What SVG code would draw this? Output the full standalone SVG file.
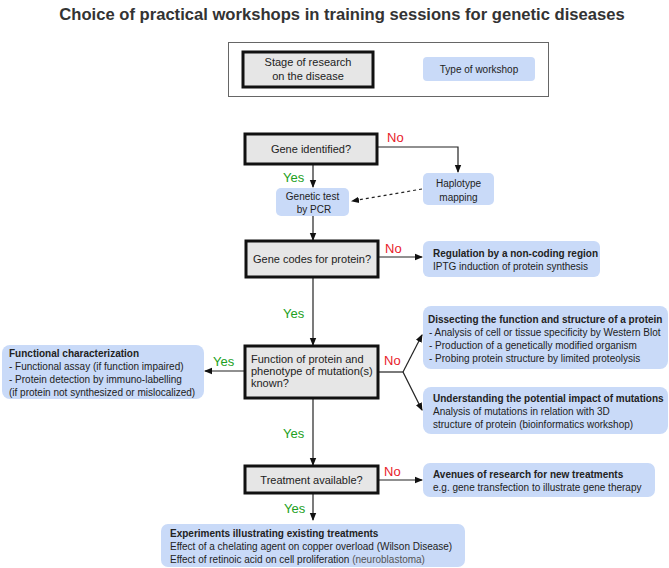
<svg xmlns="http://www.w3.org/2000/svg" width="669" height="568" viewBox="0 0 669 568">
<defs>
<marker id="ah" markerUnits="userSpaceOnUse" markerWidth="8" markerHeight="8" viewBox="0 0 8 8" refX="7" refY="4" orient="auto">
<path d="M0,0.8 L8,4 L0,7.2 Z" fill="#111"/>
</marker>
<style>
text{font-family:"Liberation Sans",Arial,sans-serif;fill:#222}
.t11{font-size:11px}
.t10{font-size:10px}
.b{font-weight:bold}
.mid{text-anchor:middle}
.stage{fill:#e6e6e6;stroke:#111;stroke-width:3}
.ws{fill:#c9daf8;stroke:none}
.yes{font-size:13px;fill:#22a022}
.no{font-size:13px;fill:#e8202a}
.c{fill:none;stroke:#222;stroke-width:1.2}
</style>
</defs>
<rect width="669" height="568" fill="#fff"/>
<text x="342" y="20" class="mid b" style="font-size:16.6px;fill:#333">Choice of practical workshops in training sessions for genetic diseases</text>

<g id="legend">
<rect x="228.5" y="42.5" width="320" height="54" fill="#fff" stroke="#666" stroke-width="1"/>
<rect x="243" y="52" width="130" height="35" class="stage"/>
<text class="t11 mid" x="308" y="66">Stage of research</text>
<text class="t11 mid" x="308" y="80">on the disease</text>
<rect x="423" y="57" width="112" height="24" rx="4" class="ws"/>
<text class="t10 mid" x="479" y="73">Type of workshop</text>
</g>

<g id="connectors">
<path class="c" d="M377,147 H458 V172" marker-end="url(#ah)"/>
<path class="c" d="M313,164 V187" marker-end="url(#ah)"/>
<path class="c" d="M422,189 L352,201" stroke-dasharray="3,3" marker-end="url(#ah)"/>
<path class="c" d="M313,216 V240" marker-end="url(#ah)"/>
<path class="c" d="M378,257 H422" marker-end="url(#ah)"/>
<path class="c" d="M313,277 V345" marker-end="url(#ah)"/>
<path class="c" d="M245,371 H205" marker-end="url(#ah)"/>
<path class="c" d="M378,372 H403"/>
<path class="c" d="M403,372 L422,335" marker-end="url(#ah)"/>
<path class="c" d="M403,372 L422,410" marker-end="url(#ah)"/>
<path class="c" d="M313,398 V465" marker-end="url(#ah)"/>
<path class="c" d="M378,480 H422" marker-end="url(#ah)"/>
<path class="c" d="M313,493 V520" marker-end="url(#ah)"/>
<text class="no" x="387" y="142">No</text>
<text class="yes" x="283" y="182">Yes</text>
<text class="no" x="385" y="252.5">No</text>
<text class="yes" x="283" y="318">Yes</text>
<text class="yes" x="213" y="366">Yes</text>
<text class="no" x="384" y="365">No</text>
<text class="yes" x="283" y="438">Yes</text>
<text class="no" x="384" y="476">No</text>
<text class="yes" x="284" y="513">Yes</text>
</g>

<g id="gene-identified">
<rect x="245" y="134" width="132" height="30" class="stage"/>
<text class="t11 mid" x="311" y="153">Gene identified?</text>
</g>

<g id="haplotype">
<rect x="423" y="173" width="71" height="32" rx="5" class="ws"/>
<text class="t10 mid" x="458.5" y="186.5">Haplotype</text>
<text class="t10 mid" x="458.5" y="200.5">mapping</text>
</g>

<g id="genetic-test">
<rect x="276" y="188" width="73" height="28" rx="5" class="ws"/>
<text class="t10 mid" x="312.5" y="199.5">Genetic test</text>
<text class="t10 mid" x="314" y="212.5">by PCR</text>
</g>

<g id="gene-codes">
<rect x="246" y="241" width="132" height="36" class="stage"/>
<text class="t11 mid" x="312" y="263">Gene codes for protein?</text>
</g>

<g id="regulation">
<rect x="423" y="241" width="177" height="36" rx="6" class="ws"/>
<text class="t10 b" x="433" y="256.5">Regulation by a non-coding region</text>
<text class="t10" x="433" y="269.5">IPTG induction of protein synthesis</text>
</g>

<g id="function-known">
<rect x="245" y="346" width="133" height="52" class="stage"/>
<text class="t11" x="251" y="363">Function of protein and</text>
<text class="t11" x="251" y="375">phenotype of mutation(s)</text>
<text class="t11" x="251" y="387">known?</text>
</g>

<g id="functional-characterization">
<rect x="2" y="345" width="202" height="54" rx="8" class="ws"/>
<text class="t10 b" x="9" y="356.5">Functional characterization</text>
<text class="t10" x="9" y="369.5">- Functional assay (if function impaired)</text>
<text class="t10" x="9" y="382.5">- Protein detection by immuno-labelling</text>
<text class="t10" x="9" y="395.5">(if protein not synthesized or mislocalized)</text>
</g>

<g id="dissecting">
<rect x="423" y="306" width="245" height="63" rx="8" class="ws"/>
<text class="t10 b" x="428" y="322.5">Dissecting the function and structure of a protein</text>
<text class="t10" x="429" y="335.5">- Analysis of cell or tissue specificity by Western Blot</text>
<text class="t10" x="429" y="348.5">- Production of a genetically modified organism</text>
<text class="t10" x="429" y="361.5">- Probing protein structure by limited proteolysis</text>
</g>

<g id="understanding">
<rect x="423" y="387" width="245" height="47" rx="8" class="ws"/>
<text class="t10 b" x="433" y="401.5">Understanding the potential impact of mutations</text>
<text class="t10" x="433" y="414.5">Analysis of mutations in relation with 3D</text>
<text class="t10" x="433" y="427.5">structure of protein (bioinformatics workshop)</text>
</g>

<g id="treatment">
<rect x="245" y="466" width="133" height="27" class="stage"/>
<text class="t11 mid" x="311.5" y="484">Treatment available?</text>
</g>

<g id="avenues">
<rect x="423" y="463" width="232" height="34" rx="7" class="ws"/>
<text class="t10 b" x="433" y="477.5">Avenues of research for new treatments</text>
<text class="t10" x="433" y="490.5">e.g. gene transfection to illustrate gene therapy</text>
</g>

<g id="experiments">
<rect x="161" y="524" width="304" height="43" rx="7" class="ws"/>
<text class="t10 b" x="170" y="536.5">Experiments illustrating existing treatments</text>
<text class="t10" x="170" y="549.5">Effect of a chelating agent on copper overload (Wilson Disease)</text>
<text class="t10" x="170" y="562.5">Effect of retinoic acid on cell proliferation <tspan style="fill:#555">(neuroblastoma)</tspan></text>
</g>
</svg>
